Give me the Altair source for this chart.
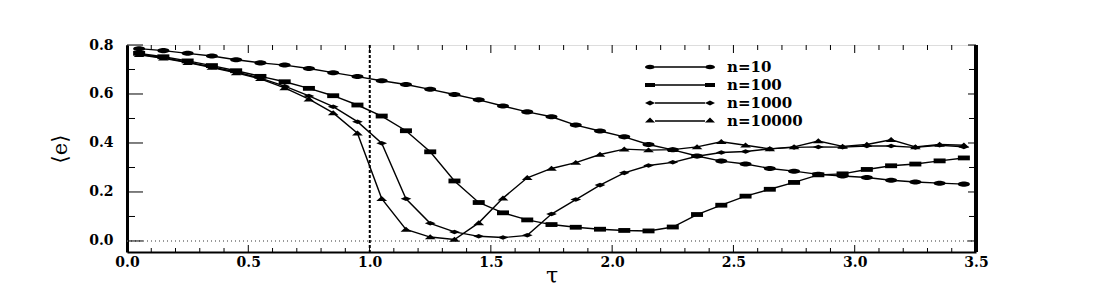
import altair as alt
import pandas as pd

# ---------------- data ----------------
tau = [0.05, 0.15, 0.25, 0.35, 0.45, 0.55, 0.65, 0.75, 0.85, 0.95,
       1.05, 1.15, 1.25, 1.35, 1.45, 1.55, 1.65, 1.75, 1.85, 1.95,
       2.05, 2.15, 2.25, 2.35, 2.45, 2.55, 2.65, 2.75, 2.85, 2.95,
       3.05, 3.15, 3.25, 3.35, 3.45]

n10 = [0.785, 0.777, 0.766, 0.755, 0.740, 0.727, 0.718, 0.704, 0.687, 0.671,
       0.654, 0.639, 0.619, 0.598, 0.576, 0.551, 0.527, 0.507, 0.473, 0.449,
       0.425, 0.394, 0.372, 0.347, 0.326, 0.314, 0.296, 0.285, 0.272, 0.265,
       0.259, 0.248, 0.241, 0.236, 0.232]

n100 = [0.766, 0.752, 0.735, 0.716, 0.695, 0.672, 0.650, 0.623, 0.593, 0.555,
        0.510, 0.450, 0.364, 0.245, 0.157, 0.115, 0.086, 0.067, 0.056, 0.048,
        0.043, 0.041, 0.057, 0.108, 0.146, 0.183, 0.211, 0.239, 0.270, 0.274,
        0.292, 0.307, 0.314, 0.327, 0.339]

n1000 = [0.762, 0.748, 0.730, 0.710, 0.690, 0.665, 0.632, 0.592, 0.548, 0.487,
         0.399, 0.172, 0.072, 0.037, 0.019, 0.014, 0.023, 0.110, 0.169, 0.228,
         0.278, 0.308, 0.321, 0.346, 0.361, 0.365, 0.376, 0.382, 0.384, 0.383,
         0.388, 0.388, 0.382, 0.391, 0.384]

n10000 = [0.760, 0.746, 0.728, 0.708, 0.686, 0.662, 0.625, 0.579, 0.523, 0.440,
          0.173, 0.047, 0.016, 0.006, 0.074, 0.175, 0.258, 0.296, 0.320, 0.353,
          0.375, 0.371, 0.373, 0.384, 0.405, 0.391, 0.376, 0.384, 0.408, 0.386,
          0.394, 0.413, 0.384, 0.394, 0.391]

series_names = ["n=10", "n=100", "n=1000", "n=10000"]

x_major = [0.0, 0.5, 1.0, 1.5, 2.0, 2.5, 3.0, 3.5]
x_minor = [0.1, 0.2, 0.3, 0.4, 0.6, 0.7, 0.8, 0.9, 1.1, 1.2, 1.3, 1.4,
           1.6, 1.7, 1.8, 1.9, 2.1, 2.2, 2.3, 2.4, 2.6, 2.7, 2.8, 2.9,
           3.1, 3.2, 3.3, 3.4]
y_major = [0.0, 0.2, 0.4, 0.6, 0.8]
y_minor = [0.1, 0.3, 0.5, 0.7]

# ---------------- tables ----------------
rows = []
for name, vals in zip(series_names, [n10, n100, n1000, n10000]):
    for t, v in zip(tau, vals):
        rows.append({"tau": t, "e": v, "series": name})
df = pd.DataFrame(rows)

xmaj_df = pd.DataFrame({"t": x_major})
xmin_df = pd.DataFrame({"t": x_minor})
ymaj_df = pd.DataFrame({"v": y_major})
ymin_df = pd.DataFrame({"v": y_minor})

W, H = 849, 207
SERIF = "DejaVu Serif"

xs = alt.Scale(domain=[0, 3.5], nice=False, zero=False)
ys = alt.Scale(domain=[-0.045, 0.8], nice=False, zero=False)

marker_paths = [
    "M-1,0A1,0.42,0,1,1,1,0A1,0.42,0,1,1,-1,0Z",
    "M-1,-0.4H1V0.4H-1Z",
    "M-0.9,0L0,-0.38L0.9,0L0,0.38Z",
    "M-0.9,0.38L0,-0.45L0.9,0.38Z",
]
LINE = "M-0.714,-0.018H0.714V0.018H-0.714Z"
legend_paths = [
    "M-1,0A0.143,0.065,0,1,1,-0.714,0A0.143,0.065,0,1,1,-1,0Z "
    "M0.714,0A0.143,0.065,0,1,1,1,0A0.143,0.065,0,1,1,0.714,0Z " + LINE,
    "M-1,-0.06H-0.714V0.06H-1Z M0.714,-0.06H1V0.06H0.714Z " + LINE,
    "M-1,0L-0.857,-0.07L-0.714,0L-0.857,0.07Z M0.714,0L0.857,-0.07L1,0L0.857,0.07Z " + LINE,
    "M-1,0.04L-0.857,-0.1L-0.714,0.04Z M0.714,0.04L0.857,-0.1L1,0.04Z " + LINE,
]

x_axis = alt.Axis(values=x_major, format=".1f", ticks=False, grid=False,
                  labelFlush=False,
                  domainColor="black", domainWidth=2,
                  labelFont=SERIF, labelFontWeight="bold", labelFontSize=14,
                  labelColor="black", labelPadding=3,
                  title="τ", titleFont=SERIF, titleFontSize=22,
                  titleFontWeight="normal", titleColor="black", titlePadding=-4)
y_axis = alt.Axis(values=y_major, format=".1f", ticks=False, grid=False,
                  labelFlush=False,
                  domainColor="black", domainWidth=3,
                  labelFont=SERIF, labelFontWeight="bold", labelFontSize=14,
                  labelColor="black", labelPadding=14,
                  title="⟨e⟩", titleFont=SERIF, titleFontSize=21,
                  titleFontWeight="normal", titleColor="black", titlePadding=18)

base = alt.Chart(df)

lines = base.mark_line(color="black", strokeWidth=1.4).encode(
    x=alt.X("tau:Q", scale=xs, axis=x_axis),
    y=alt.Y("e:Q", scale=ys, axis=y_axis),
    detail="series:N",
)

points = base.mark_point(filled=True, color="black", opacity=1, size=144,
                         strokeWidth=0).encode(
    x=alt.X("tau:Q", scale=xs),
    y=alt.Y("e:Q", scale=ys),
    shape=alt.Shape("series:N",
                    scale=alt.Scale(domain=series_names, range=marker_paths),
                    legend=None),
)

legend_layer = base.mark_point(filled=True, color="black", opacity=0,
                               size=4900, strokeWidth=0).encode(
    x=alt.X("tau:Q", scale=xs),
    y=alt.Y("e:Q", scale=ys),
    shape=alt.Shape("series:N",
                    scale=alt.Scale(domain=series_names, range=legend_paths),
                    legend=alt.Legend(title=None, orient="none",
                                      legendX=518, legendY=13,
                                      symbolSize=4900, symbolOpacity=1,
                                      symbolFillColor="black",
                                      symbolStrokeWidth=0,
                                      clipHeight=18, rowPadding=0,
                                      padding=0, labelOffset=12,
                                      labelFont=SERIF, labelFontWeight="bold",
                                      labelFontSize=15, labelColor="black",
                                      labelLimit=300)),
)

zero_line = alt.Chart(xmaj_df).mark_rule(color="#999999", strokeWidth=1,
                                         strokeDash=[1, 3]).encode(
    y=alt.datum(0, scale=ys))
tau1_line = alt.Chart(xmaj_df).mark_rule(color="black", strokeWidth=1.2,
                                         strokeDash=[3, 2]).encode(
    x=alt.datum(1.0, scale=xs))
right_frame = alt.Chart(xmaj_df).mark_rule(color="black", strokeWidth=3).encode(
    x=alt.datum(3.5, scale=xs))


def xticks(d, length):
    bot = alt.Chart(d).mark_rule(color="black", strokeWidth=1).encode(
        x=alt.X("t:Q", scale=xs), y=alt.value(H), y2=alt.value(H - length))
    top = alt.Chart(d).mark_rule(color="black", strokeWidth=1).encode(
        x=alt.X("t:Q", scale=xs), y=alt.value(0), y2=alt.value(length + 1))
    return bot + top


def yticks(d, left_len, right_len):
    left = alt.Chart(d).mark_rule(color="black", strokeWidth=1).encode(
        y=alt.Y("v:Q", scale=ys), x=alt.value(0), x2=alt.value(left_len))
    right = alt.Chart(d).mark_rule(color="black", strokeWidth=1).encode(
        y=alt.Y("v:Q", scale=ys), x=alt.value(W), x2=alt.value(W - right_len))
    return left + right


chart = alt.layer(
    zero_line, tau1_line,
    xticks(xmaj_df, 7), xticks(xmin_df, 4),
    yticks(ymaj_df, 16, 8), yticks(ymin_df, 8, 7),
    lines, points, legend_layer, right_frame,
).resolve_scale(shape="independent").properties(
    width=W, height=H,
    autosize=alt.AutoSizeParams(type="none"),
    padding={"left": 119, "top": 37, "right": 100, "bottom": 40},
).configure_view(stroke="black", strokeWidth=1.2).configure(background="white")

chart.save("out.html", embed_options={"renderer": "svg", "actions": False})
